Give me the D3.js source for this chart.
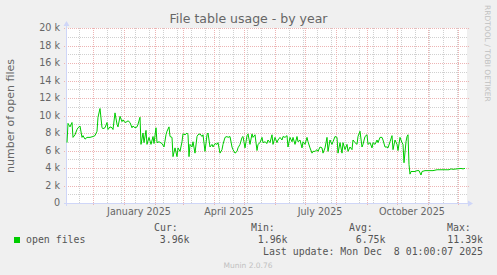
<!DOCTYPE html>
<html>
<head>
<meta charset="utf-8">
<script src="https://cdn.jsdelivr.net/npm/d3@7"></script>
<style>
  body { margin: 0; background: #F0F0F0; }
  svg { display: block; }
</style>
</head>
<body>
<svg class="plot" width="497" height="275"></svg>
<script>
// series: day offset from startDay, open files count
var startDay = Date.UTC(2024, 10, 5),
    endDay = Date.UTC(2025, 11, 10);

var dayOffsets = [
  0,1,3,5,6,8,10,11,13,15,16,18,20,23,26,28,30,31,33,35,36,38,40,41,43,45,46,48,50,51,53,55,56,58,60,61,63,65,66,68,70,71,73,74,76,77,79,80,82,84,86,87,89,90,92,95,97,99,100,102,103,105,106,108,110,111,113,115,116,118,120,121,122,
  123,125,126,128,130,131,133,135,136,138,140,141,143,145,146,148,150,151,153,155,156,158,160,161,163,165,166,168,170,171,173,175,176,178,180,181,183,185,186,188,190,191,193,195,196,198,200,201,203,205,206,208,210,211,213,215,216,218,220,221,223,225,226,228,230,231,233,235,236,238,240,241,243,245,246,248,250,251,
  253,255,256,258,260,261,263,265,266,268,270,271,273,275,276,278,280,281,283,285,286,288,290,291,293,295,296,298,300,301,303,305,306,308,310,311,313,315,316,318,320,321,323,325,326,328,330,331,333,335,336,337,339,340,341,342,343,344,
  345,348,350,352,354,355,358,362,366,370,374,378,382,384,386,390,394,396,398
];

var openFiles = [
  6900,9100,8700,9200,7500,7800,8400,8600,8800,7500,7700,7300,7500,7500,7600,7700,8200,9800,10800,8600,8500,8600,9200,8400,8700,8600,8400,10300,9000,8700,9900,9300,9500,9200,9300,9400,9200,8600,8800,8600,8700,9000,9800,6700,8000,6900,8300,6700,7500,6700,7600,6800,8600,6900,7000,6800,6400,7800,8200,8700,7600,7500,5300,6300,5300,6300,5900,7000,7900,7800,8000,7800,5300,
  6700,6400,7000,5700,7600,7800,7900,7600,7800,5900,7800,8000,6400,6700,6400,6800,6700,6900,5700,6100,6700,7500,7600,7500,7600,6400,6100,5700,5900,6300,6700,7500,7600,6300,7700,7900,6700,7900,7500,7800,6000,6700,6900,7500,6900,7000,6800,7200,6900,7800,6700,7500,6900,7200,7500,7200,7600,7500,7700,6400,7500,7000,7500,6700,7600,7000,7200,6300,7000,6700,7500,7000,6300,5700,5900,5900,6100,5900,
  6400,6300,5700,6300,7500,5900,7200,6700,7000,7600,7500,5700,6900,5700,6900,6100,6700,5900,6400,6100,7200,6900,6700,7600,8200,6400,6700,7600,7800,6700,6900,6300,6900,6700,7200,6900,7500,7500,7200,6400,6400,6300,7000,7700,6100,7200,6700,6000,7500,6900,6700,4600,7000,7600,7800,4400,3300,3600,
  3600,3600,3700,3700,3200,3600,3700,3700,3700,3800,3800,3800,3800,3900,3850,3900,3950,3900,3960
];

var yTicks = [0, 2000, 4000, 6000, 8000, 10000, 12000, 14000, 16000, 18000, 20000];
var xLabels = ["January 2025", "April 2025", "July 2025", "October 2025"];
var legendHeads = ["Cur:", "Min:", "Avg:", "Max:"];
var legendValues = ["3.96k", "1.96k", "6.75k", "11.39k"];

var svg = d3.select(".plot"),
    plotLeft = 67, plotRight = 467, plotTop = 28, plotBottom = 203;

var x = d3.scaleUtc().domain([startDay, endDay]).range([plotLeft, plotRight]),
    y = d3.scaleLinear().domain([0, 20000]).range([plotBottom, plotTop]);

var px = function(v) { return Math.round(v) + 0.5; };

svg.append('rect').attr('width', 497).attr('height', 275).attr('fill', '#F0F0F0');
svg.append('rect')
    .attr('x', plotLeft).attr('y', plotTop)
    .attr('width', plotRight - plotLeft).attr('height', plotBottom - plotTop)
    .attr('fill', '#FFFFFF');

//grid
var grid = svg.append('g').attr('shape-rendering', 'crispEdges');

var minorY = d3.range(1000, 20001, 2000);
grid.selectAll('.ymin').data(minorY).enter().append('line')
    .attr('x1', plotLeft - 1).attr('x2', plotRight + 1)
    .attr('y1', function(d) { return px(y(d)); })
    .attr('y2', function(d) { return px(y(d)); })
    .attr('stroke', '#D0D0D0').style('stroke-dasharray', '1,1');

var minorX = d3.utcDay.range(new Date(Date.UTC(2024, 10, 17)), new Date(endDay), 14);
grid.selectAll('.xmin').data(minorX).enter().append('line')
    .attr('x1', function(d) { return px(x(d)); })
    .attr('x2', function(d) { return px(x(d)); })
    .attr('y1', plotTop).attr('y2', plotBottom + 1)
    .attr('stroke', '#D0D0D0').style('stroke-dasharray', '1,1');

grid.selectAll('.ymaj').data(yTicks.slice(1)).enter().append('line')
    .attr('x1', plotLeft - 3).attr('x2', plotRight + 2)
    .attr('y1', function(d) { return px(y(d)); })
    .attr('y2', function(d) { return px(y(d)); })
    .attr('stroke', '#EDB4B4').style('stroke-dasharray', '1,1');

var months = d3.utcMonth.range(new Date(startDay), new Date(endDay));
grid.selectAll('.xmaj').data(months).enter().append('line')
    .attr('x1', function(d) { return px(x(d)); })
    .attr('x2', function(d) { return px(x(d)); })
    .attr('y1', plotTop).attr('y2', plotBottom + 3)
    .attr('stroke', '#EDB4B4').style('stroke-dasharray', '1,1');

//axes
var axisColor = '#CFD6F8';
svg.append('line').attr('x1', plotLeft - 3).attr('x2', plotRight + 3)
    .attr('y1', px(plotBottom)).attr('y2', px(plotBottom))
    .attr('stroke', axisColor).attr('shape-rendering', 'crispEdges');
svg.append('line').attr('x1', plotLeft - 0.5).attr('x2', plotLeft - 0.5)
    .attr('y1', plotBottom + 3).attr('y2', plotTop - 3)
    .attr('stroke', axisColor).attr('shape-rendering', 'crispEdges');
svg.append('path')
    .attr('d', 'M' + (plotRight + 6) + ',' + (plotBottom + 0.5) + 'L' + (plotRight + 1) + ',' + (plotBottom - 2.5) + 'L' + (plotRight + 1) + ',' + (plotBottom + 3.5) + 'Z')
    .attr('fill', axisColor);
svg.append('path')
    .attr('d', 'M' + (plotLeft - 0.5) + ',' + (plotTop - 7) + 'L' + (plotLeft - 3.5) + ',' + (plotTop - 2) + 'L' + (plotLeft + 2.5) + ',' + (plotTop - 2) + 'Z')
    .attr('fill', axisColor);

//data line
var line = d3.line()
    .x(function(d, i) { return x(startDay + dayOffsets[i] * 864e5); })
    .y(function(d) { return y(d); });

svg.append('path')
    .datum(openFiles)
    .attr('d', line)
    .attr('fill', 'none')
    .attr('stroke', '#00CC00')
    .attr('stroke-width', 1);

//labels
var sans = 'DejaVu Sans, sans-serif',
    mono = 'DejaVu Sans Mono, monospace';

svg.selectAll('.ylab').data(yTicks).enter().append('text')
    .attr('x', 60).attr('y', function(d) { return y(d); })
    .attr('dy', '0.36em')
    .attr('text-anchor', 'end')
    .style('font-family', sans).style('font-size', '9.6px').style('fill', '#666')
    .text(function(d) { return d === 0 ? '0' : (d / 1000) + ' k'; });

var labelMonths = [Date.UTC(2025, 0, 1), Date.UTC(2025, 3, 1), Date.UTC(2025, 6, 1), Date.UTC(2025, 9, 1)];
svg.selectAll('.xlab').data(xLabels).enter().append('text')
    .attr('x', function(d, i) { return x(labelMonths[i] + 15 * 864e5); })
    .attr('y', 215)
    .attr('text-anchor', 'middle')
    .style('font-family', sans).style('font-size', '9.6px').style('fill', '#666')
    .text(function(d) { return d; });

svg.append('text')
    .attr('x', 248.5).attr('y', 22.5)
    .attr('text-anchor', 'middle')
    .style('font-family', sans).style('font-size', '12.5px').style('fill', '#666')
    .text('File table usage - by year');

svg.append('text')
    .attr('transform', 'translate(14,116)rotate(-90)')
    .attr('text-anchor', 'middle')
    .style('font-family', sans).style('font-size', '11px').style('fill', '#666')
    .text('number of open files');

svg.append('text')
    .attr('transform', 'translate(485,5)rotate(90)')
    .attr('text-anchor', 'start')
    .style('font-family', sans).style('font-size', '7.5px').style('fill', '#C0C0C0')
    .text('RRDTOOL / TOBI OETIKER');

//legend
svg.append('rect').attr('x', 14).attr('y', 237).attr('width', 6).attr('height', 6)
    .attr('fill', '#00CC00');
svg.append('text').attr('x', 26).attr('y', 243)
    .style('font-family', mono).style('font-size', '9.9px').style('fill', '#555')
    .text('open files');

var headX = [154, 251, 349, 447], valX = [189.5, 287.5, 385.5, 483];
svg.selectAll('.lhead').data(legendHeads).enter().append('text')
    .attr('x', function(d, i) { return headX[i]; }).attr('y', 231)
    .style('font-family', mono).style('font-size', '9.9px').style('fill', '#555')
    .text(function(d) { return d; });
svg.selectAll('.lval').data(legendValues).enter().append('text')
    .attr('x', function(d, i) { return valX[i]; }).attr('y', 243)
    .attr('text-anchor', 'end')
    .style('font-family', mono).style('font-size', '9.9px').style('fill', '#555')
    .text(function(d) { return d; });

svg.append('text').attr('x', 483).attr('y', 254.5)
    .attr('text-anchor', 'end')
    .attr('xml:space', 'preserve')
    .style('white-space', 'pre')
    .style('font-family', mono).style('font-size', '9.9px').style('fill', '#555')
    .text('Last update: Mon Dec  8 01:00:07 2025');

svg.append('text').attr('x', 248).attr('y', 267.5)
    .attr('text-anchor', 'middle')
    .style('font-family', sans).style('font-size', '7.5px').style('fill', '#C0C0C0')
    .text('Munin 2.0.76');
</script>
</body>
</html>
